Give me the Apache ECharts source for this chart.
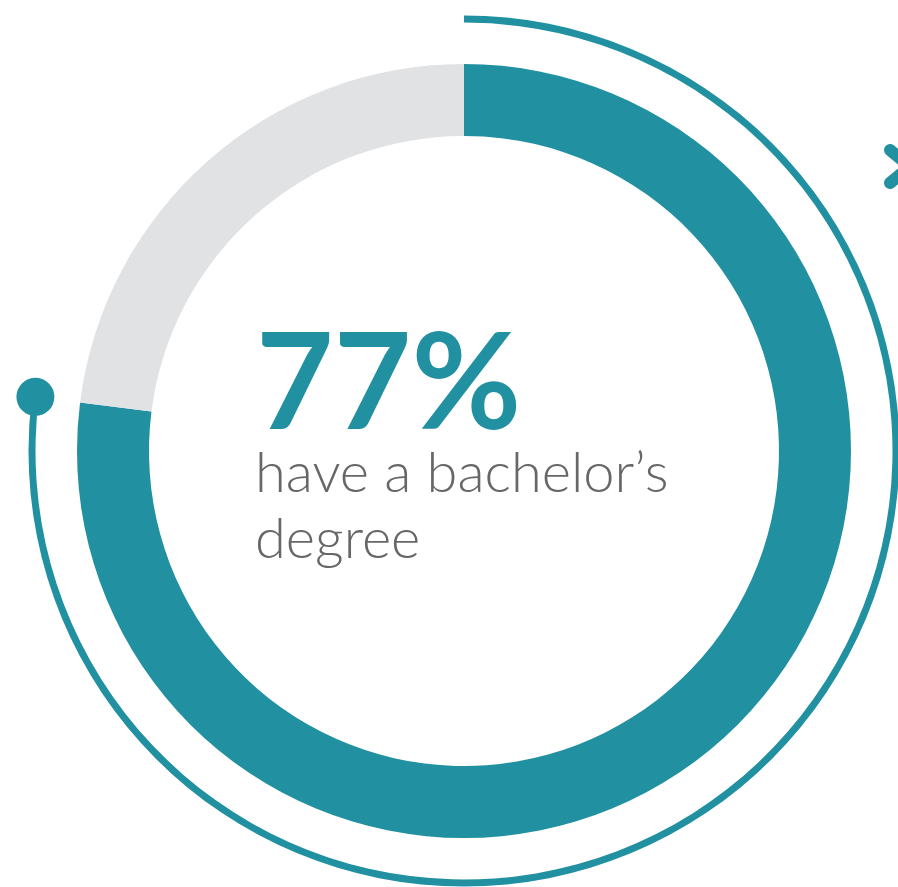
<!DOCTYPE html>
<html>
<head>
<meta charset="utf-8">
<script src="https://cdn.jsdelivr.net/npm/echarts@6/dist/echarts.min.js"></script>
<style>
html,body{margin:0;padding:0;background:#fff;}
#chart{width:898px;height:887px;}
</style>
</head>
<body>
<div id="chart"></div>
<script>
// Data
const categories = ['Bachelor\u2019s degree', 'No bachelor\u2019s degree'];
const shareValues = [77, 23];
const headline = '77%';
const captionLines = ['have a bachelor\u2019s', 'degree'];

const TEAL = '#2191a1';
const GRAY = '#e1e2e4';
const CX = 464, CY = 451;

const chart = echarts.init(document.getElementById('chart'));
chart.setOption({
  animation: false,
  backgroundColor: '#ffffff',
  polar: { center: [CX, CY], radius: 432 },
  angleAxis: { type: 'value', min: 0, max: 100, startAngle: 90, clockwise: true, show: false },
  radiusAxis: { type: 'value', min: 0, max: 432, show: false },
  series: [
    {
      type: 'pie',
      center: [CX, CY],
      radius: [315, 387],
      startAngle: 90,
      clockwise: true,
      silent: true,
      label: { show: false },
      labelLine: { show: false },
      data: categories.map((c, i) => ({
        name: c, value: shareValues[i],
        itemStyle: { color: i === 0 ? TEAL : GRAY }
      }))
    },
    {
      type: 'pie',
      center: [CX, CY],
      radius: [428.5, 435.5],
      startAngle: 90,
      clockwise: true,
      silent: true,
      label: { show: false },
      labelLine: { show: false },
      data: categories.map((c, i) => ({
        name: c, value: shareValues[i],
        itemStyle: { color: i === 0 ? TEAL : 'rgba(0,0,0,0)' }
      }))
    },
    {
      type: 'scatter',
      coordinateSystem: 'polar',
      symbol: 'circle',
      symbolSize: 38,
      silent: true,
      z: 10,
      itemStyle: { color: TEAL, opacity: 1 },
      data: [[432, shareValues[0]]]
    }
  ],
  graphic: [
    {
      type: 'text', left: 256, top: 319,
      style: { text: headline, font: 'bold 134px Lato', fill: TEAL, letterSpacing: 4 }
    },
    {
      type: 'text', left: 255, top: 441,
      style: { text: captionLines.join('\n'), font: '300 56px Lato', fill: '#666769', lineHeight: 66 }
    },
    {
      type: 'polyline',
      shape: { points: [[890, 150], [910, 166.5], [890, 183]] },
      style: { stroke: TEAL, lineWidth: 12, lineCap: 'round', lineJoin: 'round', fill: null }
    }
  ]
});
</script>
</body>
</html>
